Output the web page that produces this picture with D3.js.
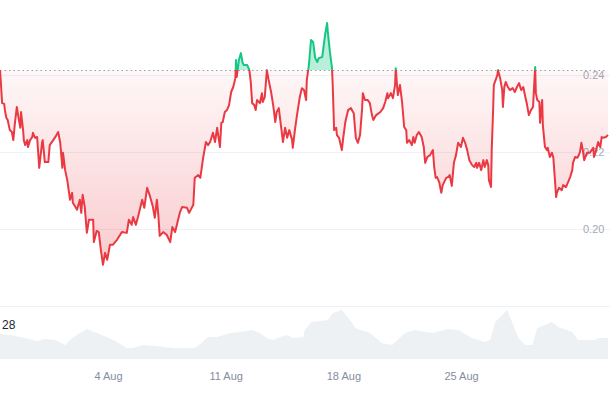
<!DOCTYPE html>
<html>
<head>
<meta charset="utf-8">
<script src="https://cdn.jsdelivr.net/npm/d3@7"></script>
<style>
  body { margin: 0; background: #fff; }
  svg text { font-family: "Liberation Sans", Arial, sans-serif; }
</style>
</head>
<body>
<svg id="chart" width="610" height="394"></svg>
<script>
// hours since the first point, and the price at that moment
const startTime = new Date(2024, 6, 28, 13, 48);

const priceHours = [0,1,3,6,7,9,11,14,17,19,21,24,27,29,30,33,34,36,39,40,43,46,47,50,53,56,60,61,64,69,
  71,76,80,83,86,89,90,93,96,100,103,104,110,114,116,118,121,124,127,133,134,138,141,144,147,150,153,157,161,167,
  174,181,184,188,190,194,197,203,206,210,214,218,221,224,226,228,233,238,243,246,250,257,260,267,270,276,278,283,286,290,
  294,297,300,304,307,310,314,316,318,321,324,327,330,333,336,337,338,341,344,346,348,353,356,358,360,363,365,367,371,374,
  375,378,381,383,387,390,393,395,398,401,404,407,410,413,417,418,421,424,428,431,434,437,438,441,444,447,450,453,455,460,
  461,464,467,468,471,474,475,477,480,481,484,488,490,493,497,501,504,505,508,511,514,517,518,521,525,528,531,533,537,543,
  547,550,553,554,558,561,564,565,567,568,571,574,577,580,581,584,588,590,592,595,598,602,605,607,610,614,618,620,622,624,
  627,630,632,637,640,642,645,648,651,654,658,661,664,667,670,674,677,680,681,684,687,690,692,695,697,698,701,702,704,705,
  710,711,714,717,718,720,722,725,728,732,735,738,741,744,747,750,752,755,758,761,762,764,765,767,770,771,774,775,778,781,
  782,785,788,790,794,795,798,802,804,808,811,814,817,818,821,824,825,828,830,832,834,838,842,847,848,851,854,857,859,861,
  865,868];

const prices = [0.2414,0.2388,0.2328,0.2326,0.2310,0.2290,0.2284,0.2258,0.2253,0.2232,0.2271,0.2318,0.2284,0.2264,0.2305,0.2258,0.2232,0.2219,0.2232,0.2214,0.2232,0.2240,0.2251,0.2238,0.2240,0.2160,0.2225,0.2232,0.2175,0.2175,
  0.2219,0.2232,0.2243,0.2253,0.2225,0.2160,0.2199,0.2154,0.2128,0.2077,0.2095,0.2069,0.2051,0.2077,0.2043,0.2090,0.2058,0.1991,0.2025,0.2025,0.1967,0.1996,0.1993,0.1947,0.1908,0.1939,0.1921,0.1960,0.1960,0.1973,
  0.1993,0.1991,0.2025,0.2012,0.2032,0.2012,0.2032,0.2077,0.2056,0.2108,0.2087,0.2061,0.2030,0.2077,0.2038,0.1983,0.1993,0.1986,0.1967,0.2006,0.1993,0.2045,0.2058,0.2056,0.2043,0.2064,0.2134,0.2141,0.2134,0.2186,
  0.2227,0.2219,0.2227,0.2251,0.2227,0.2264,0.2214,0.2277,0.2279,0.2305,0.2310,0.2323,0.2357,0.2370,0.2393,0.2440,0.2396,0.2440,0.2458,0.2435,0.2427,0.2427,0.2414,0.2383,0.2328,0.2323,0.2310,0.2336,0.2328,0.2354,
  0.2331,0.2344,0.2414,0.2393,0.2357,0.2323,0.2279,0.2305,0.2315,0.2271,0.2227,0.2264,0.2238,0.2258,0.2232,0.2212,0.2258,0.2297,0.2344,0.2367,0.2362,0.2336,0.2388,0.2427,0.2492,0.2487,0.2445,0.2435,0.2445,0.2448,
  0.2461,0.2505,0.2536,0.2513,0.2461,0.2419,0.2375,0.2258,0.2264,0.2245,0.2238,0.2206,0.2238,0.2279,0.2310,0.2315,0.2305,0.2302,0.2238,0.2225,0.2245,0.2315,0.2354,0.2336,0.2336,0.2328,0.2297,0.2284,0.2297,0.2305,
  0.2315,0.2331,0.2354,0.2341,0.2354,0.2341,0.2375,0.2419,0.2370,0.2349,0.2375,0.2331,0.2266,0.2258,0.2225,0.2232,0.2219,0.2240,0.2225,0.2245,0.2253,0.2240,0.2214,0.2173,0.2188,0.2193,0.2206,0.2160,0.2134,0.2136,
  0.2123,0.2095,0.2115,0.2134,0.2136,0.2141,0.2113,0.2173,0.2193,0.2225,0.2214,0.2238,0.2225,0.2206,0.2180,0.2167,0.2162,0.2173,0.2160,0.2173,0.2154,0.2180,0.2162,0.2180,0.2167,0.2128,0.2110,0.2206,0.2310,0.2375,
  0.2401,0.2414,0.2393,0.2362,0.2318,0.2370,0.2383,0.2370,0.2362,0.2367,0.2357,0.2370,0.2380,0.2362,0.2370,0.2344,0.2328,0.2297,0.2310,0.2318,0.2354,0.2422,0.2354,0.2336,0.2331,0.2277,0.2336,0.2271,0.2214,0.2206,
  0.2212,0.2188,0.2199,0.2186,0.2084,0.2095,0.2108,0.2102,0.2115,0.2110,0.2123,0.2136,0.2154,0.2173,0.2188,0.2186,0.2188,0.2201,0.2225,0.2206,0.2180,0.2199,0.2199,0.2212,0.2188,0.2206,0.2227,0.2214,0.2240,0.2238,
  0.2240,0.2245];

// trading volume (millions), hours since start
const volumeHours = [0,14,36,53,64,79,93,103,114,124,138,153,167,181,190,204,224,247,271,278,286,297,310,328,343,360,371,381,390,400,
  410,418,433,435,445,468,475,488,503,507,528,545,560,578,592,617,640,654,674,692,700,707,724,731,740,750,760,767,788,797,
  817,825,849,854,868];
const volumes = [25,24,21,18,20,19,14,21,26,30,26,22,17,11,11,14,13,11,11,11,15,22,22,26,27,29,26,21,19,22,
  24,21,22,29,37,39,46,49,36,31,26,16,14,26,29,26,30,29,21,17,19,37,49,37,21,14,14,31,37,32,
  27,19,19,21,21];

const priceTicks = [0.20, 0.22, 0.24];
const dateTicks = ["2024-08-04", "2024-08-11", "2024-08-18", "2024-08-25"];
const volumeLabel = "28";

const svg = d3.select("#chart");
const W = 610;

const priceData = priceHours.map((h, i) => ({ t: d3.timeHour.offset(startTime, h), v: prices[i] }));
const volumeData = volumeHours.map((h, i) => ({ t: d3.timeHour.offset(startTime, h), v: volumes[i] }));

const x = d3.scaleTime()
  .domain([startTime, d3.timeHour.offset(startTime, 868)])
  .range([0, 608]);
const y = d3.scaleLinear().domain([0.1801, 0.2596]).range([306, 0]);
const yVol = d3.scaleLinear().domain([0, 54]).range([359, 305]);

const base = prices[0];
const baseY = y(base);

// gradient + clips
const defs = svg.append("defs");
const grad = defs.append("linearGradient")
  .attr("id", "redFill")
  .attr("gradientUnits", "userSpaceOnUse")
  .attr("x1", 0).attr("x2", 0)
  .attr("y1", baseY).attr("y2", y(d3.min(prices)));
grad.append("stop").attr("offset", 0).attr("stop-color", "#ea3943").attr("stop-opacity", 0.04);
grad.append("stop").attr("offset", 1).attr("stop-color", "#ea3943").attr("stop-opacity", 0.26);

defs.append("clipPath").attr("id", "above")
  .append("rect").attr("x", 0).attr("y", 0).attr("width", W).attr("height", baseY);
defs.append("clipPath").attr("id", "below")
  .append("rect").attr("x", 0).attr("y", baseY).attr("width", W).attr("height", 306 - baseY);

// grid lines
svg.append("g")
  .selectAll("line")
  .data(priceTicks)
  .join("line")
  .attr("x1", 0).attr("x2", W)
  .attr("y1", d => Math.round(y(d)) + 0.5).attr("y2", d => Math.round(y(d)) + 0.5)
  .attr("stroke", "#eff1f4");
svg.append("line")
  .attr("x1", 0).attr("x2", W).attr("y1", 306.5).attr("y2", 306.5)
  .attr("stroke", "#eff1f4");

// price axis labels (the line is drawn on top of them)
const yAxis = d3.axisRight(y).tickValues(priceTicks).tickFormat(d3.format(".2f")).tickSize(0);
svg.append("g")
  .attr("transform", "translate(583,0)")
  .call(yAxis)
  .call(g => g.select(".domain").remove())
  .selectAll("text")
  .attr("x", 0)
  .attr("fill", "#a3a9b6")
  .style("font-size", "11px");

// volume
svg.append("path")
  .datum(volumeData)
  .attr("fill", "#eef1f4")
  .attr("d", d3.area().x(d => x(d.t)).y0(yVol(0)).y1(d => yVol(d.v)));

svg.append("text")
  .attr("x", 2).attr("y", 329)
  .attr("fill", "#222531")
  .style("font-size", "12px")
  .text(volumeLabel);

// price areas
const area = d3.area().x(d => x(d.t)).y0(baseY).y1(d => y(d.v));
svg.append("path").datum(priceData)
  .attr("clip-path", "url(#below)")
  .attr("fill", "url(#redFill)")
  .attr("d", area);
svg.append("path").datum(priceData)
  .attr("clip-path", "url(#above)")
  .attr("fill", "#16c784").attr("fill-opacity", 0.3)
  .attr("d", area);

// baseline
svg.append("line")
  .attr("x1", 0).attr("x2", 606)
  .attr("y1", Math.round(baseY) + 0.5).attr("y2", Math.round(baseY) + 0.5)
  .attr("stroke", "#9aa0ab")
  .attr("stroke-dasharray", "1.5,3");

// price line
const line = d3.line().x(d => x(d.t)).y(d => y(d.v));
svg.append("path").datum(priceData)
  .attr("clip-path", "url(#below)")
  .attr("fill", "none").attr("stroke", "#ea3943").attr("stroke-width", 2)
  .attr("stroke-linejoin", "round")
  .attr("d", line);
svg.append("path").datum(priceData)
  .attr("clip-path", "url(#above)")
  .attr("fill", "none").attr("stroke", "#16c784").attr("stroke-width", 2)
  .attr("stroke-linejoin", "round")
  .attr("d", line);

// time axis
const xAxis = d3.axisBottom(x)
  .tickValues(dateTicks.map(d => d3.timeParse("%Y-%m-%d")(d)))
  .tickFormat(d3.timeFormat("%-d %b"))
  .tickSize(0);
svg.append("g")
  .attr("transform", "translate(0,369)")
  .call(xAxis)
  .call(g => g.select(".domain").remove())
  .selectAll("text")
  .attr("fill", "#858ca0")
  .style("font-size", "11px");
</script>
</body>
</html>
